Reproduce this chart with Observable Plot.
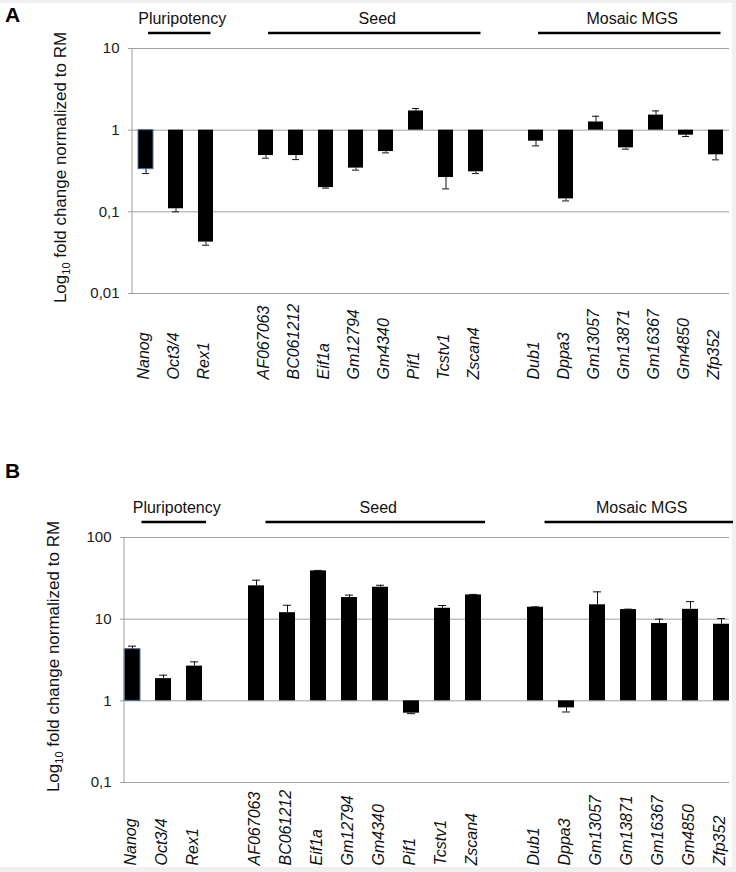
<!DOCTYPE html>
<html>
<head>
<meta charset="utf-8">
<script src="https://cdn.jsdelivr.net/npm/d3@7"></script>
<script src="https://cdn.jsdelivr.net/npm/@observablehq/plot@0.6"></script>
<style>
  html, body { margin: 0; padding: 0; }
  body { width: 736px; height: 872px; background: #f0f0f0; position: relative; overflow: hidden; font-family: "Liberation Sans", Arial, sans-serif; }
  #paper { position: absolute; left: 0; top: 3px; width: 732px; height: 864px; background: #ffffff; }
  .panel { position: absolute; left: 0; }
</style>
</head>
<body>
<div id="paper"></div>
<div id="panelA" class="panel" style="top:0px"></div>
<div id="panelB" class="panel" style="top:430px"></div>
<script>
// ---------- data ----------
const groupNames = ["Pluripotency", "Seed", "Mosaic MGS"];
const pluripotencyGenes = ["Nanog", "Oct3/4", "Rex1"];
const seedGenes = ["AF067063", "BC061212", "Eif1a", "Gm12794", "Gm4340", "Pif1", "Tcstv1", "Zscan4"];
const mosaicGenes = ["Dub1", "Dppa3", "Gm13057", "Gm13871", "Gm16367", "Gm4850", "Zfp352"];
const groupGenes = [pluripotencyGenes, seedGenes, mosaicGenes];
const genes = groupGenes.flat();

// Panel A: fold change vs RM, and error-bar magnitude
const valuesA = [0.333, 0.109, 0.0426, 0.489, 0.489, 0.198, 0.343, 0.547, 1.72, 0.263, 0.309, 0.733, 0.144, 1.26, 0.607, 1.53, 0.868, 0.499];
const errorsA = [0.039, 0.009, 0.0036, 0.035, 0.053, 0.003, 0.019, 0.020, 0.12, 0.072, 0.015, 0.091, 0.008, 0.22, 0.022, 0.19, 0.033, 0.066];
const ticksA = [0.01, 0.1, 1, 10];

// Panel B
const valuesB = [4.29, 1.87, 2.66, 25.6, 12.0, 39.0, 18.4, 24.6, 0.706, 13.6, 19.8, 14.0, 0.82, 15.0, 13.1, 8.84, 13.2, 8.67];
const errorsB = [0.38, 0.19, 0.34, 4.4, 2.8, 0.5, 1.3, 1.4, 0.01, 1.1, 0.3, 0.15, 0.09, 6.6, 0.15, 1.16, 3.2, 1.5];
const ticksB = [0.1, 1, 10, 100];

const yTitle = ["Log", "10", " fold change normalized to RM"];

// ---------- layout helpers ----------
const slots = [];
groupGenes.forEach((gs, i) => { if (i > 0) slots.push("gap" + i); slots.push(...gs); });
const FONT = "Liberation Sans, Arial, Helvetica, sans-serif";

function panel(el, letter, values, errors, ticks, cfg) {
  const rows = genes.map((g, i) => ({
    gene: g,
    value: values[i],
    end: values[i] < 1 ? values[i] - errors[i] : values[i] + errors[i]
  }));
  const chart = Plot.plot({
    width: 736,
    height: cfg.height,
    marginTop: cfg.marginTop,
    marginBottom: cfg.marginBottom,
    marginLeft: cfg.marginLeft,
    marginRight: 7,
    style: { background: "transparent", fontFamily: FONT, fontSize: "15px", color: "#1a1a1a", overflow: "visible" },
    x: { domain: slots, paddingInner: 0.5, paddingOuter: 0, axis: null },
    y: {
      type: "log",
      domain: [ticks[0], ticks[ticks.length - 1]],
      ticks: ticks,
      tickFormat: d => String(d).replace(".", ","),
      tickSize: 4,
      tickPadding: 9,
      label: null
    },
    marks: [
      Plot.ruleY(ticks, { stroke: "#a0a0a0", strokeWidth: 1 }),
      Plot.barY(rows, { x: "gene", y1: 1, y2: "value", fill: "#000" }),
      Plot.barY(rows.slice(0, 1), { x: "gene", y1: 1, y2: "value", fill: "#000", stroke: "#4f74a8", strokeWidth: 1 }),
      Plot.ruleX(rows, { x: "gene", y1: "value", y2: "end", stroke: "#111", strokeWidth: 1 }),
      Plot.tickY(rows, { x: "gene", y: "end", stroke: "#111", strokeWidth: 1, insetLeft: 4, insetRight: 4 }),
      Plot.text(rows, {
        x: "gene", text: "gene", frameAnchor: "bottom", rotate: -90, textAnchor: "start",
        dy: cfg.labelDy, dx: 3, fontStyle: "italic", fontSize: 16, fill: "#111"
      })
    ]
  });
  el.appendChild(chart);

  const svg = d3.select(chart.tagName.toLowerCase() === "svg" ? chart : chart.querySelector("svg"));
  svg.selectAll("[aria-label^='y-axis'] line, [aria-label^='y-axis'] path").attr("stroke", "#a0a0a0");

  const xs = chart.scale("x");
  const ys = chart.scale("y");
  const bw = xs.bandwidth;
  const cx = g => xs.apply(g) + bw / 2;
  const top = ys.apply(ticks[ticks.length - 1]);
  const bottom = ys.apply(ticks[0]);

  // left axis line
  svg.append("line")
    .attr("x1", cfg.marginLeft).attr("x2", cfg.marginLeft)
    .attr("y1", top).attr("y2", bottom)
    .attr("stroke", "#a0a0a0");

  // group headers
  groupGenes.forEach((gs, i) => {
    const x1 = cx(gs[0]) + 2.5 + cfg.headerShift;
    const x2 = cx(gs[gs.length - 1]) + 5 + cfg.headerShift;
    svg.append("line")
      .attr("x1", x1).attr("x2", x2)
      .attr("y1", top - 15).attr("y2", top - 15)
      .attr("stroke", "#000").attr("stroke-width", 2.5);
    svg.append("text")
      .attr("x", (x1 + x2) / 2 + 3).attr("y", top - 24.5)
      .attr("text-anchor", "middle")
      .attr("font-family", FONT).attr("font-size", 16).attr("fill", "#111")
      .text(groupNames[i]);
  });

  // y title with subscript
  const t = svg.append("text")
    .attr("transform", `translate(${cfg.titleX},${(top + bottom) / 2 - 3}) rotate(-90)`)
    .attr("text-anchor", "middle")
    .attr("font-family", FONT).attr("font-size", 17).attr("fill", "#111");
  t.append("tspan").text(yTitle[0]);
  t.append("tspan").attr("font-size", 11).attr("dy", 4).text(yTitle[1]);
  t.append("tspan").attr("dy", -4).text(yTitle[2]);

  // panel letter
  svg.append("text")
    .attr("x", 5).attr("y", cfg.letterY)
    .attr("text-anchor", "start")
    .attr("font-family", FONT).attr("font-size", 21).attr("font-weight", "bold").attr("fill", "#000")
    .text(letter);
}

panel(document.getElementById("panelA"), "A", valuesA, errorsA, ticksA,
  { height: 430, marginTop: 48, marginBottom: 137, marginLeft: 132, labelDy: 86, titleX: 66, letterY: 22, headerShift: 0 });
panel(document.getElementById("panelB"), "B", valuesB, errorsB, ticksB,
  { height: 442, marginTop: 107, marginBottom: 90, marginLeft: 124, labelDy: 83, titleX: 59, letterY: 48, headerShift: 7 });
</script>
</body>
</html>
